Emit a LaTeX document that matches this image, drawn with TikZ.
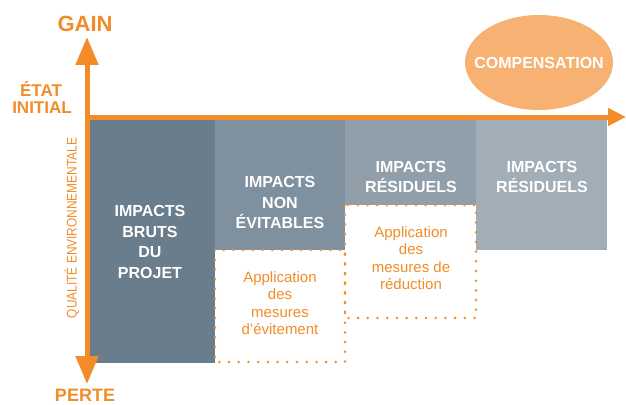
\documentclass[tikz,border=0pt]{standalone}
\usepackage{fontspec}
\setmainfont{Liberation Sans}
\usepackage{graphicx}
\usepackage{tikz}
\usetikzlibrary{arrows.meta,positioning,shapes.geometric}

\definecolor{axisorange}{HTML}{F28C28}
\definecolor{ellorange}{HTML}{F7B273}
\definecolor{colA}{HTML}{6A7D8C}
\definecolor{colB}{HTML}{7F909E}
\definecolor{colC}{HTML}{919FAB}
\definecolor{colD}{HTML}{A1ADB7}

\begin{document}
\begin{tikzpicture}[x=1pt, y=-1pt]
    % Define styles
    \tikzstyle{impact} = [text=white, font=\bfseries\fontsize{16}{20.5}\selectfont, align=center, inner sep=0pt]
    \tikzstyle{mesure} = [text=axisorange, font=\fontsize{15}{17.5}\selectfont, align=center, inner sep=0pt]
    \tikzstyle{axislabel} = [text=axisorange, font=\bfseries, inner sep=0pt]
    \tikzstyle{dots} = [axisorange, line width=2.8pt, line cap=round, dash pattern=on 0pt off 9.7pt]
    \tikzstyle{axis} = [axisorange, line width=5pt]

    \useasboundingbox (0,0) rectangle (626,404);

    % Draw the impact columns
    \fill[colA] (89,120) rectangle (215,363);
    \fill[colB] (215,120) rectangle (345,250);
    \fill[colC] (345,120) rectangle (476,205);
    \fill[colD] (476,120) rectangle (607,250);

    % Draw the dotted boxes of the measures
    \draw[dots] (215,250) rectangle (345,362);
    \draw[dots] (345,205) rectangle (476,318);

    % Draw axes
    \coordinate (origin) at (85,117);
    \coordinate (top) at (87,37);
    \coordinate (bottom) at (87,384);
    \coordinate (right) at (626,117);
    \draw[axis, -{Triangle[width=22pt, length=28pt]}] (87,117) -- (top);
    \draw[axis, -{Triangle[width=22pt, length=28pt]}] (87,117) -- (bottom);
    \draw[axis, -{Triangle[width=17pt, length=18pt]}] (origin) -- (right);

    % Axis labels
    \node[axislabel, font=\bfseries\fontsize{22}{24}\selectfont] (gain) at (85,23.5) {GAIN};
    \node[axislabel, font=\bfseries\fontsize{17}{19}\selectfont] (etat) at (41,89) {ÉTAT};
    \node[axislabel, font=\bfseries\fontsize{17}{19}\selectfont] (initial) at (42,108) {INITIAL};
    \node[axislabel, font=\bfseries\fontsize{18}{20}\selectfont] (perte) at (85,395) {PERTE};
    \node[rotate=90, text=axisorange, font=\fontsize{14}{16}\selectfont, inner sep=0pt] (qualite) at (72,228) {\scalebox{0.85}[1]{QUALITÉ ENVIRONNEMENTALE}};

    % Compensation
    \node[ellipse, fill=ellorange, minimum width=148pt, minimum height=95pt, inner sep=0pt] (ellipse) at (539,62.5) {};
    \node[text=white, font=\bfseries\fontsize{16}{18}\selectfont, inner sep=0pt] (compensation) at (ellipse.center) {COMPENSATION};

    % Column texts
    \node[impact] (bruts) at (150,242) {IMPACTS\\BRUTS\\DU\\PROJET};
    \node[impact] (nonevit) at (280,202.5) {IMPACTS\\NON\\ÉVITABLES};
    \node[impact] (residA) at (411,177) {IMPACTS\\RÉSIDUELS};
    \node[impact] (residB) at (542,177) {IMPACTS\\RÉSIDUELS};

    % Measure texts
    \node[mesure] (evitement) at (280,303) {Application\\des\\mesures\\d’évitement};
    \node[mesure] (reduction) at (411,258) {Application\\des\\mesures de\\réduction};
\end{tikzpicture}
\end{document}
